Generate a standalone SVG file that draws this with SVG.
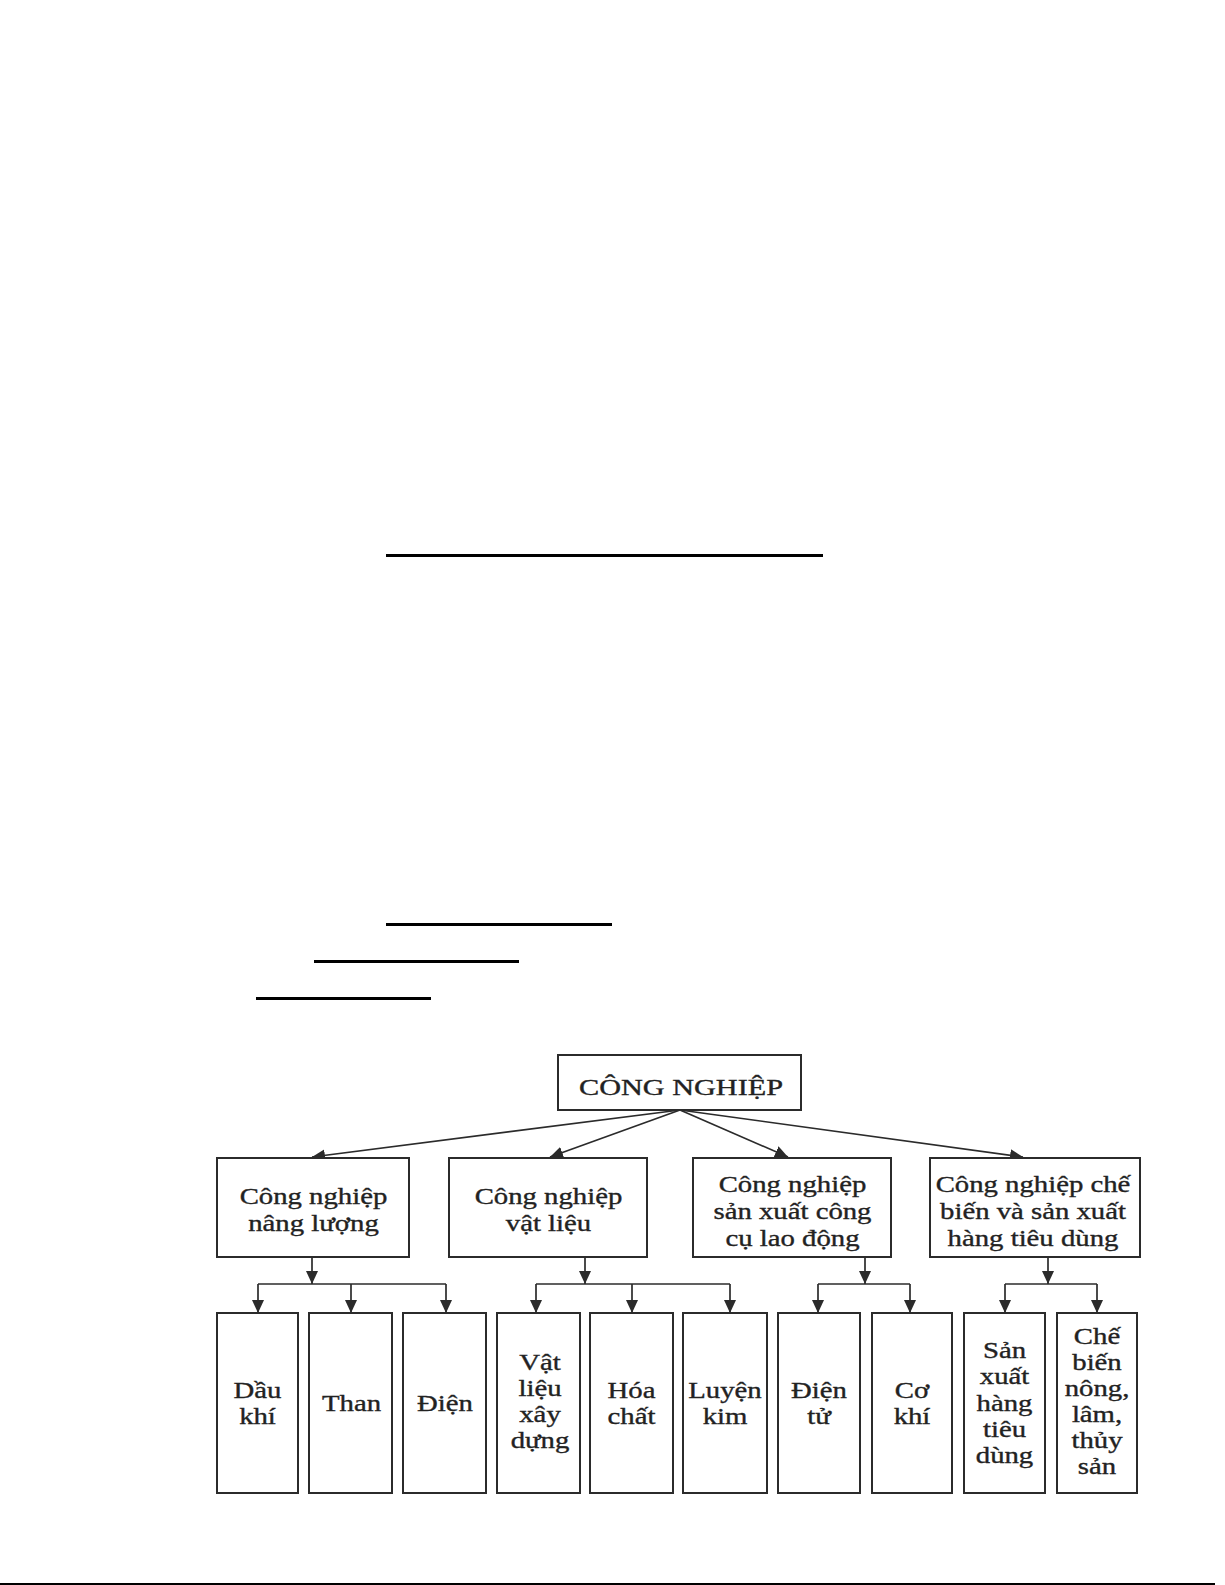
<svg xmlns="http://www.w3.org/2000/svg" width="1225" height="1585" viewBox="0 0 1225 1585">
<defs>
<style>
.box{fill:#fff;stroke:#2b2b2b;stroke-width:2}
.t{font-family:"Liberation Serif","Times New Roman",serif;font-size:23px;fill:#222;stroke:#222;stroke-width:0.35;text-anchor:middle}
.c{fill:none;stroke:#2b2b2b;stroke-width:1.7}
.rule{stroke:#000;fill:none}
</style>
<marker id="ah" markerUnits="userSpaceOnUse" markerWidth="13" markerHeight="12" viewBox="0 0 13 12" refX="13" refY="6" orient="auto">
<path d="M0,0 L13,6 L0,12 z" fill="#2b2b2b"/>
</marker>
</defs>
<rect width="1225" height="1585" fill="#fff"/>
<g id="page-rules">
<line class="rule" x1="386" y1="555.5" x2="823" y2="555.5" stroke-width="3"/>
<line class="rule" x1="386" y1="924.5" x2="612" y2="924.5" stroke-width="3"/>
<line class="rule" x1="314" y1="961.5" x2="519" y2="961.5" stroke-width="3"/>
<line class="rule" x1="256" y1="998.5" x2="431" y2="998.5" stroke-width="3"/>
<line class="rule" x1="0" y1="1584" x2="1215" y2="1584" stroke-width="2"/>
</g>
<g id="connectors">
<path class="c" d="M680,1110 L312,1157" marker-end="url(#ah)"/>
<path class="c" d="M680,1110 L550,1157" marker-end="url(#ah)"/>
<path class="c" d="M680,1110 L788,1157" marker-end="url(#ah)"/>
<path class="c" d="M680,1110 L1023,1157" marker-end="url(#ah)"/>
<path class="c" d="M312,1257 V1284" marker-end="url(#ah)"/>
<path class="c" d="M258,1284 H446"/>
<path class="c" d="M258,1284 V1313" marker-end="url(#ah)"/>
<path class="c" d="M351,1284 V1313" marker-end="url(#ah)"/>
<path class="c" d="M446,1284 V1313" marker-end="url(#ah)"/>
<path class="c" d="M585,1257 V1284" marker-end="url(#ah)"/>
<path class="c" d="M536,1284 H730"/>
<path class="c" d="M536,1284 V1313" marker-end="url(#ah)"/>
<path class="c" d="M632,1284 V1313" marker-end="url(#ah)"/>
<path class="c" d="M730,1284 V1313" marker-end="url(#ah)"/>
<path class="c" d="M865,1257 V1284" marker-end="url(#ah)"/>
<path class="c" d="M818,1284 H910"/>
<path class="c" d="M818,1284 V1313" marker-end="url(#ah)"/>
<path class="c" d="M910,1284 V1313" marker-end="url(#ah)"/>
<path class="c" d="M1048,1257 V1284" marker-end="url(#ah)"/>
<path class="c" d="M1005,1284 H1097"/>
<path class="c" d="M1005,1284 V1313" marker-end="url(#ah)"/>
<path class="c" d="M1097,1284 V1313" marker-end="url(#ah)"/>
</g>
<g id="cong-nghiep">
<rect class="box" x="558" y="1055" width="243" height="55"/>
<text class="t" x="579" y="1095" style="text-anchor:start" textLength="204" lengthAdjust="spacingAndGlyphs">CÔNG NGHIỆP</text>
</g>
<g id="nang-luong">
<rect class="box" x="217" y="1158" width="192" height="99"/>
<text class="t" transform="translate(313.5 0) scale(1.25 1)"><tspan x="0" y="1204">Công nghiệp</tspan><tspan x="0" y="1231">nâng lượng</tspan></text>
</g>
<g id="vat-lieu">
<rect class="box" x="449" y="1158" width="198" height="99"/>
<text class="t" transform="translate(548.5 0) scale(1.25 1)"><tspan x="0" y="1204">Công nghiệp</tspan><tspan x="0" y="1231">vật liệu</tspan></text>
</g>
<g id="cong-cu">
<rect class="box" x="693" y="1158" width="198" height="99"/>
<text class="t" transform="translate(792.5 0) scale(1.25 1)"><tspan x="0" y="1192">Công nghiệp</tspan><tspan x="0" y="1219">sản xuất công</tspan><tspan x="0" y="1246">cụ lao động</tspan></text>
</g>
<g id="tieu-dung">
<rect class="box" x="930" y="1158" width="210" height="99"/>
<text class="t" transform="translate(1033 0) scale(1.25 1)"><tspan x="0" y="1192">Công nghiệp chế</tspan><tspan x="0" y="1219">biến và sản xuất</tspan><tspan x="0" y="1246">hàng tiêu dùng</tspan></text>
</g>
<g id="dau-khi">
<rect class="box" x="217" y="1313" width="81" height="180"/>
<text class="t" transform="translate(257.5 0) scale(1.25 1)"><tspan x="0" y="1398">Dầu</tspan><tspan x="0" y="1424">khí</tspan></text>
</g>
<g id="than">
<rect class="box" x="309" y="1313" width="83" height="180"/>
<text class="t" transform="translate(351.5 0) scale(1.25 1)"><tspan x="0" y="1411">Than</tspan></text>
</g>
<g id="dien">
<rect class="box" x="403" y="1313" width="83" height="180"/>
<text class="t" transform="translate(445 0) scale(1.25 1)"><tspan x="0" y="1411">Điện</tspan></text>
</g>
<g id="vat-lieu-xay-dung">
<rect class="box" x="497" y="1313" width="83" height="180"/>
<text class="t" transform="translate(540 0) scale(1.25 1)"><tspan x="0" y="1370">Vật</tspan><tspan x="0" y="1396">liệu</tspan><tspan x="0" y="1422">xây</tspan><tspan x="0" y="1448">dựng</tspan></text>
</g>
<g id="hoa-chat">
<rect class="box" x="590" y="1313" width="83" height="180"/>
<text class="t" transform="translate(631.5 0) scale(1.25 1)"><tspan x="0" y="1398">Hóa</tspan><tspan x="0" y="1424">chất</tspan></text>
</g>
<g id="luyen-kim">
<rect class="box" x="683" y="1313" width="84" height="180"/>
<text class="t" transform="translate(725 0) scale(1.25 1)"><tspan x="0" y="1398">Luyện</tspan><tspan x="0" y="1424">kim</tspan></text>
</g>
<g id="dien-tu">
<rect class="box" x="778" y="1313" width="82" height="180"/>
<text class="t" transform="translate(819 0) scale(1.25 1)"><tspan x="0" y="1398">Điện</tspan><tspan x="0" y="1424">tử</tspan></text>
</g>
<g id="co-khi">
<rect class="box" x="872" y="1313" width="80" height="180"/>
<text class="t" transform="translate(912 0) scale(1.25 1)"><tspan x="0" y="1398">Cơ</tspan><tspan x="0" y="1424">khí</tspan></text>
</g>
<g id="san-xuat-hang-tieu-dung">
<rect class="box" x="964" y="1313" width="81" height="180"/>
<text class="t" transform="translate(1004.5 0) scale(1.25 1)"><tspan x="0" y="1358">Sản</tspan><tspan x="0" y="1384">xuất</tspan><tspan x="0" y="1411">hàng</tspan><tspan x="0" y="1437">tiêu</tspan><tspan x="0" y="1463">dùng</tspan></text>
</g>
<g id="che-bien">
<rect class="box" x="1057" y="1313" width="80" height="180"/>
<text class="t" transform="translate(1097 0) scale(1.25 1)"><tspan x="0" y="1344">Chế</tspan><tspan x="0" y="1370">biến</tspan><tspan x="0" y="1396">nông,</tspan><tspan x="0" y="1422">lâm,</tspan><tspan x="0" y="1448">thủy</tspan><tspan x="0" y="1474">sản</tspan></text>
</g>
</svg>
